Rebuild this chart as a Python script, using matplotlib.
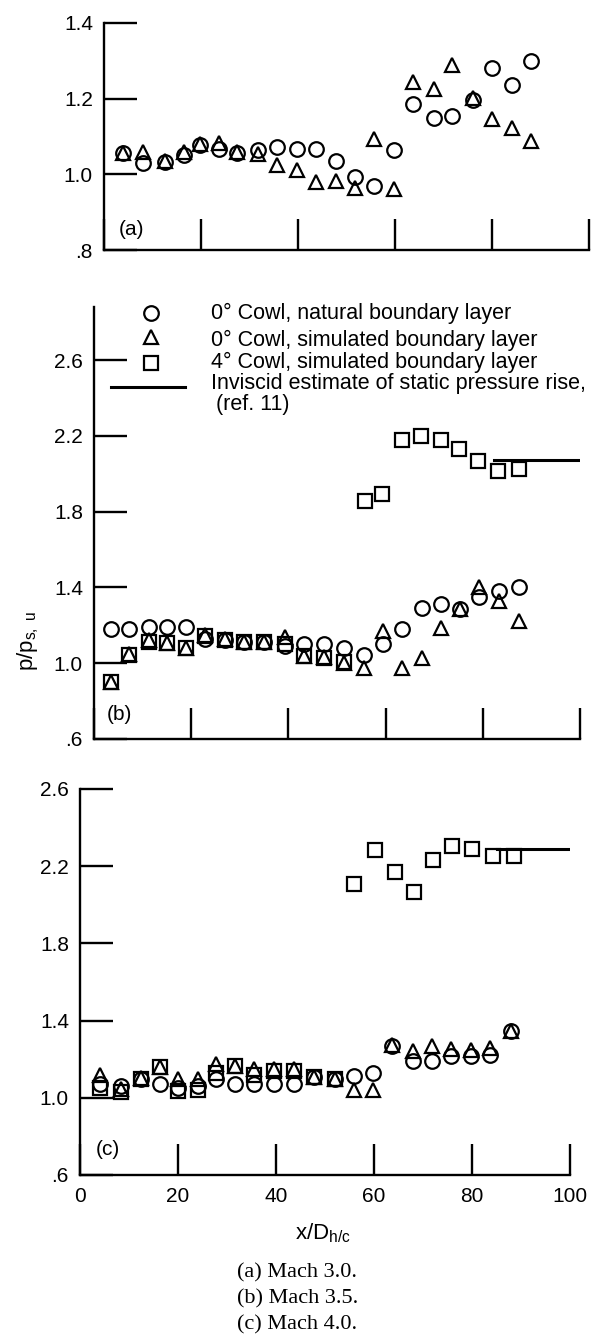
import matplotlib
matplotlib.use('Agg')
import matplotlib.pyplot as plt

plt.rcParams['font.family'] = ['Liberation Sans', 'DejaVu Sans']
plt.rcParams['mathtext.fontset'] = 'custom'
plt.rcParams['mathtext.rm'] = 'Liberation Sans'
plt.rcParams['mathtext.it'] = 'Liberation Sans:italic'

# ---------------- data ----------------
# Panel (a) Mach 3.0
a_x = [4.0, 8.1, 12.5, 16.4, 19.8, 23.8, 27.5, 31.7, 35.7, 39.7, 43.7, 47.8, 51.7, 55.7, 59.8,
       63.8, 68.0, 71.8, 76.0, 79.9, 84.1, 88.1]
a_circle = [1.057, 1.031, 1.033, 1.050, 1.078, 1.067, 1.057, 1.063, 1.073, 1.067, 1.067, 1.035,
            0.994, 0.968, 1.064, 1.185, 1.148, 1.153, 1.197, 1.280, 1.236, 1.300]
a_triangle = [1.057, 1.058, 1.034, 1.058, 1.080, 1.084, 1.058, 1.054, 1.024, 1.011, 0.981, 0.983,
              0.964, 1.093, 0.960, 1.243, 1.226, 1.290, 1.202, 1.146, 1.123, 1.088]

# Panel (b) Mach 3.5
b_x = [3.5, 7.3, 11.3, 15.1, 19.0, 22.9, 26.9, 30.9, 35.0, 39.2, 43.2, 47.3, 51.4, 55.6, 59.5,
       63.4, 67.4, 71.4, 75.4, 79.3, 83.3, 87.4]
b_circle = [1.18, 1.18, 1.19, 1.19, 1.19, 1.13, 1.12, 1.11, 1.11, 1.09, 1.10, 1.10, 1.08, 1.045,
            1.10, 1.18, 1.29, 1.31, 1.285, 1.35, 1.38, 1.40]
b_triangle = [0.90, 1.05, 1.12, 1.105, 1.08, 1.15, 1.13, 1.11, 1.11, 1.14, 1.04, 1.035, 1.00, 0.975,
              1.17, 0.975, 1.025, 1.185, 1.285, 1.40, 1.33, 1.225]
b_square_x = [3.5, 7.3, 11.3, 15.1, 19.0, 22.9, 26.9, 30.9, 35.0, 39.2, 43.2, 47.3, 51.4, 55.8,
              59.3, 63.3, 67.2, 71.4, 75.2, 79.1, 83.1, 87.4]
b_square = [0.90, 1.045, 1.11, 1.105, 1.08, 1.145, 1.12, 1.11, 1.11, 1.10, 1.04, 1.03, 1.005,
            1.857, 1.892, 2.177, 2.198, 2.177, 2.128, 2.067, 2.014, 2.023]
b_inviscid_x = [82.3, 99.7]
b_inviscid_y = [2.075, 2.075]

# Panel (c) Mach 4.0
c_x = [4.0, 8.3, 12.4, 16.3, 20.1, 24.0, 27.7, 31.6, 35.5, 39.6, 43.6, 47.8, 52.0, 56.0, 59.7,
       63.7, 67.9, 71.8, 75.8, 79.8, 83.7, 87.9]
c_circle = [1.07, 1.06, 1.10, 1.07, 1.05, 1.06, 1.095, 1.07, 1.07, 1.07, 1.07, 1.11, 1.10, 1.113,
            1.13, 1.27, 1.19, 1.19, 1.217, 1.215, 1.22, 1.348]
c_triangle = [1.12, 1.045, 1.104, 1.157, 1.10, 1.095, 1.174, 1.165, 1.148, 1.148, 1.148, 1.11, 1.10,
              1.04, 1.04, 1.275, 1.243, 1.27, 1.252, 1.25, 1.26, 1.348]
c_square_x = [4.0, 8.3, 12.4, 16.3, 20.1, 24.0, 27.7, 31.6, 35.5, 39.6, 43.6, 47.8, 52.0, 55.9,
              60.3, 64.2, 68.1, 72.0, 76.0, 79.9, 84.2, 88.5]
c_square = [1.05, 1.03, 1.10, 1.16, 1.035, 1.04, 1.13, 1.165, 1.12, 1.14, 1.14, 1.11, 1.10,
            2.106, 2.283, 2.171, 2.066, 2.23, 2.304, 2.287, 2.252, 2.252]
c_inviscid_x = [85.0, 100.0]
c_inviscid_y = [2.29, 2.29]

x_ticks = [0, 20, 40, 60, 80, 100]
x_ticklabels = ['0', '20', '40', '60', '80', '100']
a_yticks = [0.8, 1.0, 1.2, 1.4]
a_yticklabels = ['.8', '1.0', '1.2', '1.4']
bc_yticks = [0.6, 1.0, 1.4, 1.8, 2.2, 2.6]
bc_yticklabels = ['.6', '1.0', '1.4', '1.8', '2.2', '2.6']

legend_labels = ['0\u00b0 Cowl, natural boundary layer',
                 '0\u00b0 Cowl, simulated boundary layer',
                 '4\u00b0 Cowl, simulated boundary layer',
                 'Inviscid estimate of static pressure rise,']
legend_ref = '(ref. 11)'
captions = ['(a) Mach 3.0.', '(b) Mach 3.5.', '(c) Mach 4.0.']

# ---------------- figure ----------------
W, H = 595, 1337
fig = plt.figure(figsize=(W / 100, H / 100), dpi=100)


def add_panel(x0, x100, ytop, ybot):
    return fig.add_axes([x0 / W, 1 - ybot / H, (x100 - x0) / W, (ybot - ytop) / H])


FS = 15
LFS = 15.5
LW = 1.7
mk = dict(linestyle='none', markerfacecolor='none', markeredgecolor='black',
          markeredgewidth=1.6, clip_on=False)


def style(ax, ylim, yticks, yticklabels, show_x):
    ax.set_xlim(0, 100)
    ax.set_ylim(*ylim)
    for s in ('top', 'right'):
        ax.spines[s].set_visible(False)
    for s in ('left', 'bottom'):
        ax.spines[s].set_linewidth(LW)
    ax.set_xticks(x_ticks)
    ax.set_yticks(yticks)
    ax.set_yticklabels(yticklabels, fontsize=FS)
    ax.tick_params(axis='y', direction='in', length=24, width=LW, pad=8)
    ax.tick_params(axis='x', direction='in', length=22, width=LW, pad=9)
    if show_x:
        ax.set_xticklabels(x_ticklabels, fontsize=FS)
    else:
        ax.set_xticklabels([])


def draw_series(ax, xc, yc, xt, yt, xs=None, ys=None):
    ax.plot(xc, yc, marker='o', markersize=10.5, **mk)
    ax.plot(xt, yt, marker='^', markersize=10.5, **mk)
    if xs is not None:
        ax.plot(xs, ys, marker='s', markersize=10, **mk)


# Panel (a)
axa = add_panel(104, 589, 23, 250)
style(axa, (0.8, 1.4), a_yticks, a_yticklabels, False)
draw_series(axa, a_x, a_circle, a_x, a_triangle)
axa.text(3.0, 0.853, '(a)', fontsize=FS, ha='left', va='center')

# Panel (b)
axb = add_panel(94, 580, 307, 739)
style(axb, (0.6, 2.88), bc_yticks, bc_yticklabels, False)
draw_series(axb, b_x, b_circle, b_x, b_triangle, b_square_x, b_square)
axb.plot(b_inviscid_x, b_inviscid_y, color='black', linewidth=2.2)
axb.text(2.6, 0.727, '(b)', fontsize=FS, ha='left', va='center')
# legend
leg_y = [2.85, 2.72, 2.585]
axb.plot([11.8], [leg_y[0]], marker='o', markersize=10.5, **mk)
axb.plot([11.8], [leg_y[1]], marker='^', markersize=10.5, **mk)
axb.plot([11.8], [leg_y[2]], marker='s', markersize=10, **mk)
axb.plot([3.5, 18.8], [2.457, 2.457], color='black', linewidth=2.2, clip_on=False)
text_y = [2.848, 2.706, 2.59, 2.474]
for ty, lab in zip(text_y, legend_labels):
    axb.text(24.0, ty, lab, fontsize=LFS, ha='left', va='center', clip_on=False)
axb.text(25.0, 2.368, legend_ref, fontsize=LFS, ha='left', va='center', clip_on=False)
fig.text(28 / W, 1 - 641 / H, r'p/p$_{\mathrm{s,\ u}}$', fontsize=16, rotation=90,
         ha='center', va='center')

# Panel (c)
axc = add_panel(80, 570, 789, 1175)
style(axc, (0.6, 2.6), bc_yticks, bc_yticklabels, True)
draw_series(axc, c_x, c_circle, c_x, c_triangle, c_square_x, c_square)
axc.plot(c_inviscid_x, c_inviscid_y, color='black', linewidth=2.2)
axc.text(3.3, 0.73, '(c)', fontsize=FS, ha='left', va='center')
fig.text(323 / W, 1 - 1233 / H, r'x/D$_{\mathrm{h/c}}$', fontsize=16, ha='center', va='center')

for i, cap in enumerate(captions):
    fig.text(237 / W, 1 - (1273 + 26 * i) / H, cap, fontsize=16,
             family=['Liberation Serif', 'DejaVu Serif'], ha='left', va='center')

fig.savefig('out.png', dpi=100)
